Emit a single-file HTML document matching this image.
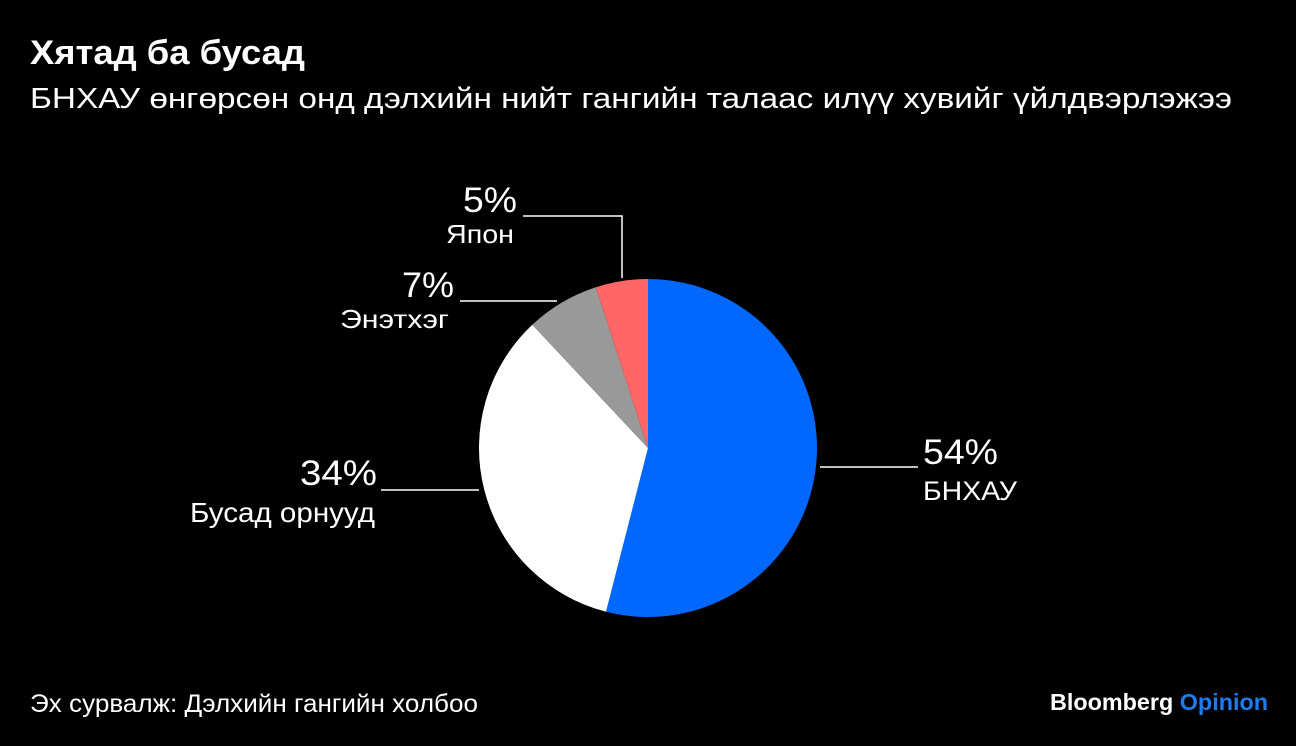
<!DOCTYPE html>
<html><head><meta charset="utf-8"><style>
body{margin:0;background:#000;}
svg{display:block;font-family:"Liberation Sans",sans-serif;}
</style></head><body>
<svg width="1296" height="746" viewBox="0 0 1296 746">
<rect width="1296" height="746" fill="#000"/>
<text x="30" y="64" fill="#fff" font-size="34" font-weight="bold" textLength="275" lengthAdjust="spacingAndGlyphs">Хятад ба бусад</text>
<text x="30" y="108" fill="#fff" font-size="29" textLength="1202" lengthAdjust="spacingAndGlyphs">БНХАУ өнгөрсөн онд дэлхийн нийт гангийн талаас илүү хувийг үйлдвэрлэжээ</text>
<g transform="translate(648,448)">
<path d="M0,0 L0,-169 A169,169 0 1 1 -42,163.7 Z" fill="#0068ff"/>
<path d="M0,0 L-42,163.7 A169,169 0 0 1 -115.7,-123.2 Z" fill="#fff"/>
<path d="M0,0 L-115.7,-123.2 A169,169 0 0 1 -52.2,-160.7 Z" fill="#999"/>
<path d="M0,0 L-52.2,-160.7 A169,169 0 0 1 0,-169 Z" fill="#ff6666"/>
</g>
<g stroke="#fff" stroke-width="1.5" fill="none">
<path d="M820,467 H918"/>
<path d="M381,490 H479"/>
<path d="M460,301 H557"/>
<path d="M523,216 H622 V278"/>
</g>
<g fill="#fff">
<text x="923" y="464" font-size="35" textLength="75" lengthAdjust="spacingAndGlyphs">54%</text>
<text x="923" y="500" font-size="27" textLength="94" lengthAdjust="spacingAndGlyphs">БНХАУ</text>
<text x="377" y="485" font-size="35" text-anchor="end" textLength="77" lengthAdjust="spacingAndGlyphs">34%</text>
<text x="375" y="522" font-size="28" text-anchor="end" textLength="185" lengthAdjust="spacingAndGlyphs">Бусад орнууд</text>
<text x="454" y="297" font-size="35" text-anchor="end" textLength="52" lengthAdjust="spacingAndGlyphs">7%</text>
<text x="449" y="328" font-size="26" text-anchor="end" textLength="109" lengthAdjust="spacingAndGlyphs">Энэтхэг</text>
<text x="517" y="212" font-size="35" text-anchor="end" textLength="54" lengthAdjust="spacingAndGlyphs">5%</text>
<text x="514" y="243" font-size="26" text-anchor="end" textLength="68" lengthAdjust="spacingAndGlyphs">Япон</text>
<text x="30" y="712" font-size="25" textLength="448" lengthAdjust="spacingAndGlyphs">Эх сурвалж: Дэлхийн гангийн холбоо</text>
<text x="1268" y="710" font-size="23" font-weight="bold" text-anchor="end" textLength="218" lengthAdjust="spacingAndGlyphs">Bloomberg <tspan fill="#1f7bf2">Opinion</tspan></text>
</g>
</svg>
</body></html>
